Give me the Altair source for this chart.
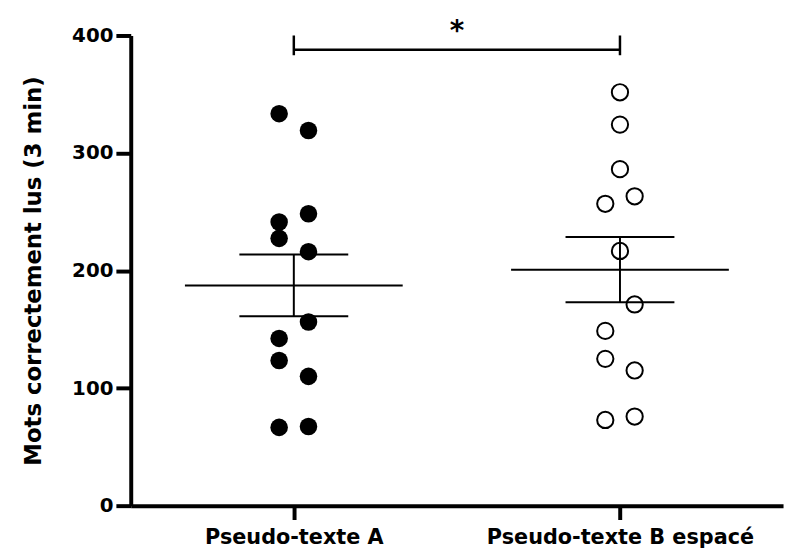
import altair as alt
import pandas as pd

groupes = ["Pseudo-texte A", "Pseudo-texte B espacé"]
valeurs_a = [333.5, 319.2, 248.4, 241.3, 227.4, 216.1, 156.3, 142.3, 123.5, 110.0, 66.6, 67.4]
colonnes_a = [-1, 1, 1, -1, -1, 1, 1, -1, -1, 1, -1, 1]
valeurs_b = [351.7, 324.2, 286.3, 263.2, 256.8, 216.7, 171.2, 148.7, 124.9, 115.0, 72.9, 75.8]
colonnes_b = [0, 0, 0, 1, -1, 0, 1, -1, -1, 1, -1, 1]
moyennes = [187.4, 200.8]
sem = [26.3, 27.8]
y_ticks = [0, 100, 200, 300, 400]
signif = "*"

pts = pd.DataFrame({
    "groupe": [groupes[0]] * len(valeurs_a) + [groupes[1]] * len(valeurs_b),
    "idx": [1] * len(valeurs_a) + [2] * len(valeurs_b),
    "valeur": valeurs_a + valeurs_b,
    "col": colonnes_a + colonnes_b,
})
stats = pd.DataFrame({"groupe": groupes, "idx": [1, 2], "moyenne": moyennes, "sem": sem})
bracket_h = pd.DataFrame({"x1": [1], "x2": [2], "y": [387.8]})
bracket_v = pd.DataFrame({"x": [1, 2], "y1": [383.2, 383.2], "y2": [400, 400]})
etoile = pd.DataFrame({"x": [1.5], "y": [396.5], "t": [signif]})

xscale = alt.Scale(domain=[0.5, 2.5], nice=False, zero=False)
yscale = alt.Scale(domain=[0, 400], nice=False)

label_expr = f"datum.value == 1 ? '{groupes[0]}' : '{groupes[1]}'"
x_axis = alt.Axis(values=[1, 2], labelExpr=label_expr, title=None, tickSize=14,
                  labelPadding=7, labelFontSize=21, labelLimit=0, grid=False)
y_axis = alt.Axis(values=y_ticks, title="Mots correctement lus (3 min)", tickSize=15,
                  labelPadding=3, labelFontSize=20, titleFontSize=23, titlePadding=26,
                  labelLimit=0, grid=False)


def X(f):
    return alt.X(f, type="quantitative", scale=xscale, axis=x_axis)


def Y(f):
    return alt.Y(f, type="quantitative", scale=yscale, axis=y_axis)


base_pts = alt.Chart(pts).transform_calculate(xpos="datum.idx + datum.col * 0.045")
pleins = base_pts.transform_filter("datum.idx == 1").mark_point(
    filled=True, size=314, color="black", opacity=1, shape="circle"
).encode(x=X("xpos"), y=Y("valeur"))
vides = base_pts.transform_filter("datum.idx == 2").mark_point(
    filled=False, size=270, color="black", opacity=1, strokeWidth=2, shape="circle"
).encode(x=X("xpos"), y=Y("valeur"))

st = alt.Chart(stats).transform_calculate(
    lo="datum.moyenne - datum.sem", hi="datum.moyenne + datum.sem"
)
moy = st.mark_tick(orient="horizontal", size=220, thickness=2, color="black", opacity=1).encode(
    x=X("idx"), y=Y("moyenne"))
cap_lo = st.mark_tick(orient="horizontal", size=110, thickness=2, color="black", opacity=1).encode(
    x=X("idx"), y=Y("lo"))
cap_hi = st.mark_tick(orient="horizontal", size=110, thickness=2, color="black", opacity=1).encode(
    x=X("idx"), y=Y("hi"))
barre = st.mark_rule(strokeWidth=2, color="black", opacity=1).encode(
    x=X("idx"), y=Y("lo"), y2="hi:Q")

bh = alt.Chart(bracket_h).mark_rule(strokeWidth=2.5, color="black", opacity=1).encode(
    x=X("x1"), x2="x2:Q", y=Y("y"))
bv = alt.Chart(bracket_v).mark_rule(strokeWidth=2.5, color="black", opacity=1).encode(
    x=X("x"), y=Y("y1"), y2="y2:Q")
txt = alt.Chart(etoile).mark_text(
    font="DejaVu Sans", fontWeight="bold", fontSize=28, baseline="alphabetic",
    align="center", color="black"
).encode(x=X("x"), y=Y("y"), text="t:N")

chart = alt.layer(pleins, vides, moy, cap_lo, cap_hi, barre, bh, bv, txt).properties(
    width=659, height=475,
    autosize=alt.AutoSizeParams(type="none"),
    padding={"left": 124, "top": 25, "right": 4, "bottom": 40},
).configure_view(stroke=None).configure_axis(
    domainColor="black", tickColor="black", labelColor="black", titleColor="black",
    domainWidth=4, tickWidth=4, labelFont="DejaVu Sans", labelFontWeight="bold",
    titleFont="DejaVu Sans", titleFontWeight="bold", grid=False,
)

chart.save("out.html", embed_options={"renderer": "svg", "actions": False})
